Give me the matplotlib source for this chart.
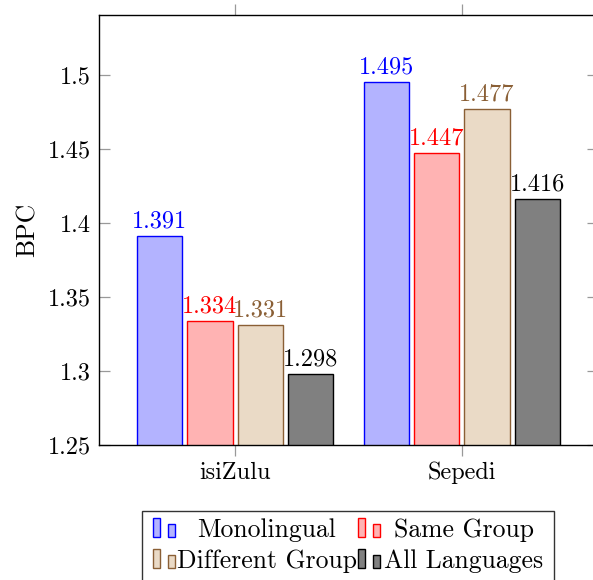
import matplotlib.pyplot as plt
from matplotlib.patches import Rectangle
import numpy as np

plt.rcParams['font.family'] = 'cmr10'
plt.rcParams['axes.unicode_minus'] = False
plt.rcParams['axes.formatter.use_mathtext'] = True

# data
languages = ['isiZulu', 'Sepedi']
series = ['Monolingual', 'Same Group', 'Different Group', 'All Languages']
monolingual = [1.391, 1.495]
same_group = [1.334, 1.447]
different_group = [1.331, 1.477]
all_languages = [1.298, 1.416]
values = [monolingual, same_group, different_group, all_languages]

fills = ['#b3b3ff', '#ffb3b3', '#eadac6', '#808080']
edges = ['#0000ff', '#ff0000', '#8a5f35', '#000000']
text_colors = ['#0000ff', '#ff0000', '#8a5f35', '#000000']

W, H = 593, 580
fig = plt.figure(figsize=(W / 100, H / 100), dpi=100)
# main axes (right spine falls just outside the picture, as in the original)
ax = fig.add_axes([99 / W, 135 / H, 499 / W, 430 / H])

x = np.arange(len(languages))
bar_w = 0.2
step = 0.222
fs = 17.5
for i, vals in enumerate(values):
    pos = x + (i - 1.5) * step
    bars = ax.bar(pos, vals, width=bar_w, bottom=0, color=fills[i],
                  edgecolor=edges[i], linewidth=1.0, zorder=2)
    for b, v in zip(bars, vals):
        ax.annotate(f'{v:.3f}', (b.get_x() + b.get_width() / 2, v),
                    xytext=(0, 2.5), textcoords='offset points',
                    ha='center', va='bottom', fontsize=fs, color=text_colors[i])

ax.set_xlim(-0.6, 1.6)
ax.set_ylim(1.25, 1.5405)
ax.set_yticks([1.25, 1.3, 1.35, 1.4, 1.45, 1.5])
ax.set_yticklabels(['1.25', '1.3', '1.35', '1.4', '1.45', '1.5'])
ax.set_xticks(x)
ax.set_xticklabels(languages)
ax.tick_params(axis='y', direction='in', length=8, color='#999999',
               labelsize=fs, pad=6, right=True, width=0.9)
ax.tick_params(axis='x', direction='out', length=8, color='#999999',
               labelsize=fs, pad=4, top=True, width=0.9)
ax.set_ylabel('BPC', fontsize=18.5, labelpad=6)
for s in ax.spines.values():
    s.set_linewidth(1.0)

# legend, drawn in pixel space on an overlay
lg = fig.add_axes([0, 0, 1, 1])
lg.set_xlim(0, W)
lg.set_ylim(H, 0)
lg.axis('off')
lg.add_patch(Rectangle((142, 511), 412, 90, facecolor='white',
                       edgecolor='#333333', linewidth=1.0, clip_on=False))
cols = [(153, 267), (358, 464)]
rows = [536.7, 567.7]
for i, name in enumerate(series):
    r, c = divmod(i, 2)
    ix, tx = cols[c]
    yb = rows[r]
    lg.add_patch(Rectangle((ix, yb), 7, -19, facecolor=fills[i],
                           edgecolor=edges[i], linewidth=1.0))
    lg.add_patch(Rectangle((ix + 15, yb), 7, -13, facecolor=fills[i],
                           edgecolor=edges[i], linewidth=1.0))
    lg.text(tx, yb - 7, name, ha='center', va='center', fontsize=18.5)

fig.savefig('out.png', dpi=100)
